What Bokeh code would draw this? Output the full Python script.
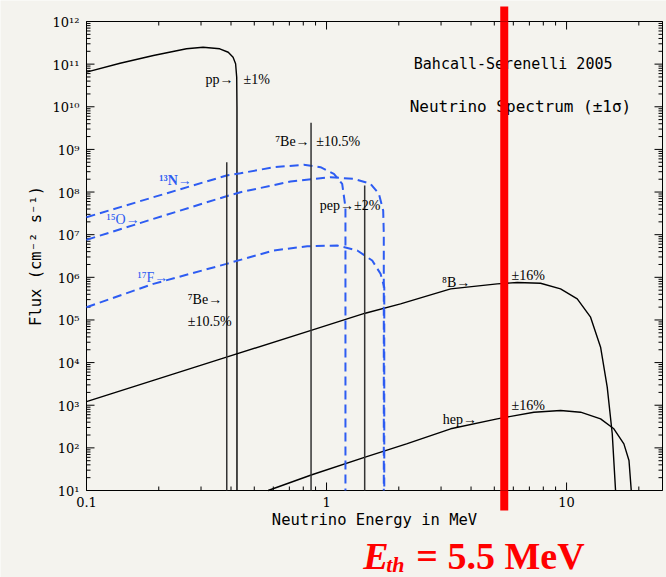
import math
from bokeh.plotting import figure
from bokeh.models import Range1d
from bokeh.core.properties import value
from bokeh.embed import file_html
from bokeh.resources import INLINE

# --- Solar neutrino spectra (BS05), energies in MeV, fluxes in cm^-2 s^-1 ---
pp_energy = [0.1, 0.138, 0.19, 0.261, 0.306, 0.359, 0.3895, 0.408, 0.418, 0.4225, 0.4235, 0.4235]
pp_flux = [6.5e10, 1.05e11, 1.59e11, 2.29e11, 2.49e11, 2.29e11, 1.9e11, 1.45e11, 1.02e11, 4.9e10, 1e10, 10]

b8_energy = [0.1, 0.383, 0.869, 1.449, 2.034, 3.29, 5.14, 6.23, 7.79, 9.44, 11.08, 12.59, 13.86, 14.77, 15.5, 16.0]
b8_flux = [1.22e3, 1.34e4, 5.75e4, 1.44e5, 2.39e5, 5.37e5, 7.03e5, 7.55e5, 7.27e5, 5.37e5, 3.13e5, 1.16e5, 2.3e4, 2.65e3, 2.14e2, 10]

hep_energy = [0.571, 0.869, 1.449, 2.154, 3.29, 5.14, 7.31, 9.44, 11.44, 13.86, 15.74, 17.33, 18.2, 18.6]
hep_flux = [10, 23.4, 60.4, 124, 280, 480, 686, 752, 686, 480, 280, 124, 50.6, 10]

n13_energy = [0.1, 0.19, 0.383, 0.438, 0.603, 0.804, 0.944, 1.073, 1.162, 1.199, 1.199]
n13_flux = [2.57e7, 7.57e7, 2.44e8, 2.76e8, 3.82e8, 4.35e8, 3.82e8, 2.67e8, 1.56e8, 4.4e7, 10]

o15_energy = [0.1, 0.19, 0.383, 0.438, 0.708, 1.039, 1.30, 1.525, 1.652, 1.722, 1.732, 1.732]
o15_flux = [7.57e6, 2.35e7, 7.98e7, 9.9e7, 1.77e8, 2.23e8, 2.04e8, 1.56e8, 9.1e7, 3.69e7, 1.05e7, 10]

f17_energy = [0.1, 0.19, 0.383, 0.438, 0.603, 0.831, 1.108, 1.343, 1.55, 1.679, 1.74, 1.74]
f17_flux = [1.99e5, 7.03e5, 2.07e6, 2.57e6, 4.25e6, 5.36e6, 5.57e6, 4.25e6, 2.48e6, 1.21e6, 5.86e5, 10]

# Monoenergetic lines: 7Be (two branches) and pep
line_energy = [0.384, 0.862, 1.442]
line_flux = [5.0e8, 4.2e9, 1.42e8]

threshold_energy = 5.5  # MeV

# Axis ticks and labels
x_major = [0.1, 1, 10]
x_major_labels = ["0.1", "1", "10"]
x_minor = [0.2, 0.3, 0.4, 0.5, 0.6, 0.7, 0.8, 0.9, 2, 3, 4, 5, 6, 7, 8, 9, 20]
y_exponents = list(range(1, 13))
y_major = [10.0 ** e for e in y_exponents]
y_minor = [k * 10.0 ** d for d in range(1, 12) for k in range(2, 10)]
SUP = str.maketrans("0123456789-", "\u2070\u00b9\u00b2\u00b3\u2074\u2075\u2076\u2077\u2078\u2079\u207b")
y_major_labels = ["10" + str(e).translate(SUP) for e in y_exponents]

# Data box of the plot and its placement on the page (pixels)
x_lo, x_hi = 0.1, 25.1
y_lo, y_hi = 10.0, 1e12
W, H = 666, 577
BOX_L, BOX_R, BOX_T, BOX_B = 86, 662, 21, 490

x_ppd = (BOX_R - BOX_L) / (math.log10(x_hi) - math.log10(x_lo))
y_ppd = (BOX_B - BOX_T) / (math.log10(y_hi) - math.log10(y_lo))
x_range = Range1d(10 ** (math.log10(x_lo) - BOX_L / x_ppd),
                  10 ** (math.log10(x_hi) + (W - BOX_R) / x_ppd))
y_range = Range1d(10 ** (math.log10(y_lo) - (H - BOX_B) / y_ppd),
                  10 ** (math.log10(y_hi) + BOX_T / y_ppd))

BG = "#f4f3ee"
BLUE = "#2d5cf2"
SERIF = "Liberation Serif"
TICKFONT = "DejaVu Serif"
MONO = "DejaVu Sans Mono"

p = figure(width=W, height=H, x_axis_type="log", y_axis_type="log",
           x_range=x_range, y_range=y_range,
           x_axis_location=None, y_axis_location=None,
           output_backend="svg", toolbar_location=None, min_border=0,
           background_fill_color=BG, border_fill_color=BG)
p.grid.visible = False
p.outline_line_color = None

# Plot box
p.quad(left=[x_lo], right=[x_hi], bottom=[y_lo], top=[y_hi],
       fill_alpha=0, line_color="black", line_width=1)

# Inward ticks on all four sides
tick = dict(length_units="screen", line_color="black", line_width=1)
for xs, ln in [(x_major, 8), (x_minor, 4)]:
    p.ray(x=xs, y=[y_lo] * len(xs), length=ln, angle=math.pi / 2, **tick)
    p.ray(x=xs, y=[y_hi] * len(xs), length=ln, angle=-math.pi / 2, **tick)
for ys, ln in [(y_major, 8), (y_minor, 4)]:
    p.ray(x=[x_lo] * len(ys), y=ys, length=ln, angle=0, **tick)
    p.ray(x=[x_hi] * len(ys), y=ys, length=ln, angle=math.pi, **tick)

# Tick labels
p.text(x=x_major, y=[y_lo] * len(x_major), text=x_major_labels, text_font=value(TICKFONT),
       text_font_size="13px", text_align="center", text_baseline="middle", y_offset=11,
       text_color="black")
p.text(x=[x_lo] * len(y_major), y=y_major, text=y_major_labels, text_font=value(TICKFONT),
       text_font_size="13px", text_align="right", text_baseline="middle",
       x_offset=-7, y_offset=1, text_color="black")

# Axis titles
x_mid = 10 ** ((math.log10(x_lo) + math.log10(x_hi)) / 2)
y_mid = 10 ** ((math.log10(y_lo) + math.log10(y_hi)) / 2)
p.text(x=[x_mid], y=[y_lo], text=["Neutrino Energy in MeV"], text_font=value(MONO),
       text_font_size="15.5px", text_align="center", text_baseline="middle",
       y_offset=29, text_color="black")
p.text(x=[x_lo], y=[y_mid], text=["Flux (cm\u207b\u00b2 s\u207b\u00b9)"], text_font=value(MONO),
       text_font_size="15.5px", text_align="center", text_baseline="middle",
       angle=math.pi / 2, x_offset=-51, text_color="black")

# Continuum spectra
for xs, ys in [(pp_energy, pp_flux), (b8_energy, b8_flux), (hep_energy, hep_flux)]:
    p.line(xs, ys, line_color="black", line_width=1.4)

# CNO spectra (dashed blue)
for xs, ys in [(n13_energy, n13_flux), (o15_energy, o15_flux), (f17_energy, f17_flux)]:
    p.line(xs, ys, line_color=BLUE, line_width=2, line_dash="9 5")

# Line sources
p.segment(x0=line_energy, y0=[y_lo] * len(line_energy), x1=line_energy, y1=line_flux,
          line_color="#333333", line_width=1.5)


# Source annotations
def note(x, y, text, color="black", font=SERIF, size="14px", style="normal", align="left"):
    p.text(x=[x], y=[y], text=[text], text_color=color, text_font=value(font),
           text_font_size=size, text_font_style=style, text_align=align,
           text_baseline="middle")


note(0.410, 4.4e10, "pp\u2192", align="right")
note(0.451, 4.4e10, "\u00b11%")
note(0.850, 1.53e9, "\u2077Be\u2192", align="right")
note(0.906, 1.53e9, "\u00b110.5%")
note(0.201, 1.86e8, "\u00b9\u00b3N\u2192", color=BLUE, style="bold")
note(0.1212, 2.23e7, "\u00b9\u2075O\u2192", color=BLUE)
note(0.1631, 9.7e5, "\u00b9\u2077F\u2192", color=BLUE)
note(0.264, 3.0e5, "\u2077Be\u2192")
note(0.264, 9.3e4, "\u00b110.5%")
note(0.937, 4.8e7, "pep\u2192\u00b12%")
note(3.03, 7.7e5, "\u2078B\u2192")
note(5.90, 1.1e6, "\u00b116%")
note(3.05, 4.6e2, "hep\u2192")
note(5.90, 9.8e2, "\u00b116%")
note(2.31, 1.0e11, "Bahcall-Serenelli 2005", font=MONO, size="15px")
note(2.22, 1.0e10, "Neutrino Spectrum (\u00b11\u03c3)", font=MONO, size="16px")

# Detection threshold: thick red bar running past the plot box
bar = dict(line_color="red", line_width=8, line_cap="butt")
p.segment(x0=[threshold_energy], y0=[y_lo], x1=[threshold_energy], y1=[y_hi], **bar)
p.ray(x=[threshold_energy], y=[y_hi], length=15, angle=math.pi / 2, length_units="screen", **bar)
p.ray(x=[threshold_energy], y=[y_lo], length=20, angle=-math.pi / 2, length_units="screen", **bar)

red = dict(text_color="red", text_font=value(SERIF), text_baseline="middle",
           text_align="left")
p.text(x=[threshold_energy], y=[y_lo], text=["E"], text_font_size="38px",
       text_font_style="bold italic", x_offset=-141, y_offset=65, **red)
p.text(x=[threshold_energy], y=[y_lo], text=["th"], text_font_size="22px",
       text_font_style="bold italic", x_offset=-118, y_offset=74, **red)
p.text(x=[threshold_energy], y=[y_lo], text=["= 5.5 MeV"], text_font_size="38px",
       text_font_style="bold", x_offset=-88, y_offset=65, **red)

with open("out.html", "w", encoding="utf-8") as f:
    f.write(file_html(p, INLINE))
